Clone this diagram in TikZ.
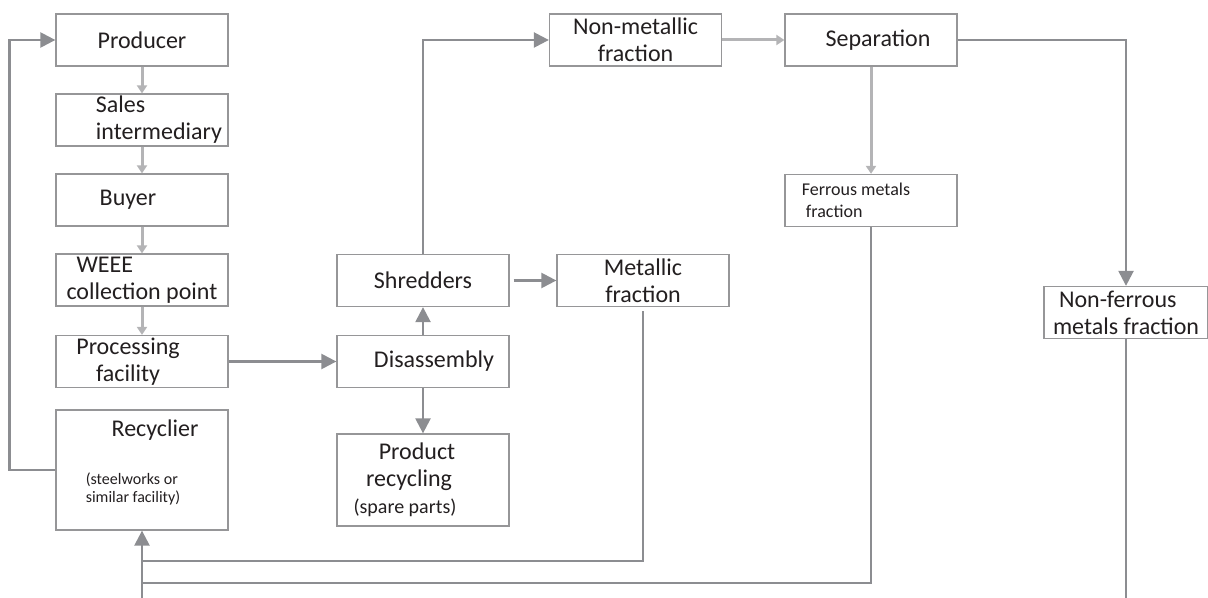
\documentclass[tikz,border=0pt]{standalone}
\usepackage{fontspec}
\setmainfont{Carlito}
\usetikzlibrary{arrows.meta}

\definecolor{ink}{RGB}{35,31,32}
\definecolor{boxline}{RGB}{150,150,152}
\definecolor{darkflow}{RGB}{140,141,145}
\definecolor{lightflow}{RGB}{180,180,182}

\begin{document}
\begin{tikzpicture}[
        x=0.5pt, y=-0.5pt,
        box/.style={draw=boxline, line width=0.65pt, fill=white, text=ink,
            minimum width=86pt, minimum height=26pt, inner sep=1pt,
            align=center, font=\fontsize{12}{13.5}\selectfont},
        main/.style={draw=darkflow, line width=1.2pt, -{Triangle[length=7.5pt, width=7.5pt]}},
        plain/.style={draw=darkflow, line width=1.2pt},
        pale/.style={draw=lightflow, line width=1.5pt, -{Triangle[length=4pt, width=5pt]}},
    ]
    \useasboundingbox (0,0) rectangle (1208,598);

    % left column
    \node[box] (producer) at (142,40) {Producer};
    \node[box, align=left] (sales) at (142,120) {\hspace*{17pt}Sales\\\hspace*{17pt}intermediary};
    \node[box] (buyer) at (142,200) {Buyer\hspace*{14pt}\mbox{}};
    \node[box, align=left] (weee) at (142,280) {\hspace*{5pt}WEEE\\collection point};
    \node[box] (processing) at (142,361.5) {Processing\hspace*{14pt}\mbox{}\\facility\hspace*{14pt}\mbox{}};
    \node[box, minimum height=60pt] (recycler) at (142,470) {};
    \node[text=ink, font=\fontsize{12}{13.5}\selectfont] (recyclertitle) at (155,430) {Recyclier};
    \node[text=ink, font=\fontsize{8}{9}\selectfont, align=left] (recyclernote) at (133,489) {(steelworks or\\similar facility)};

    % middle column
    \node[box] (shredders) at (423,280.5) {Shredders};
    \node[box] (disassembly) at (423,361.5) {\hspace*{11pt}Disassembly};
    \node[box, minimum height=46pt] (product) at (423,480) {Product\hspace*{6pt}\mbox{}\\recycling\hspace*{14pt}\mbox{}\\{\fontsize{10}{12}\selectfont(spare parts)\hspace*{18pt}\mbox{}}};

    \node[box] (nonmetal) at (635.5,40) {Non-metallic\\fraction};
    \node[box] (metallic) at (643,280.5) {Metallic\\fraction};

    % right part
    \node[box] (separation) at (871,40) {\hspace*{7pt}Separation};
    \node[box, align=left, font=\fontsize{9}{11}\selectfont] (ferrous) at (871,200.5) {Ferrous metals\hspace*{15pt}\mbox{}\\\hspace*{2pt}fraction};
    \node[box, minimum width=82pt, align=left] (nonferrous) at (1126,312.5) {\hspace*{3pt}Non-ferrous\\metals fraction};

    \coordinate (m1) at (142,561);
    \coordinate (m2) at (142,583);
    \coordinate (m0) at (142,598);

    \draw[pale] (producer) -- (sales);
    \draw[pale] (sales) -- (buyer);
    \draw[pale] (buyer) -- (weee);
    \draw[pale] (weee) -- (processing);
    \draw[pale] (nonmetal) -- (separation);
    \draw[pale] (separation) -- (ferrous);

    \draw[main] (recycler.west) -- ++(-46,0) |- (producer.west);
    \draw[main] (processing) -- (disassembly);
    \draw[main] (disassembly) -- (shredders);
    \draw[main] (disassembly) -- (product);
    \draw[main] (shredders.north) |- (nonmetal.west);
    \draw[main, shorten <=2pt] (shredders) -- (metallic);
    \draw[main] (separation.east) -| (nonferrous.north);

    \draw[plain, shorten <=2pt] (metallic.south) |- (m1);
    \draw[plain] (ferrous.south) |- (m2);
    \draw[plain] (nonferrous.south) -- (nonferrous.south |- m0);
    \draw[main] (m0) -- (recycler.south);
\end{tikzpicture}
\end{document}
